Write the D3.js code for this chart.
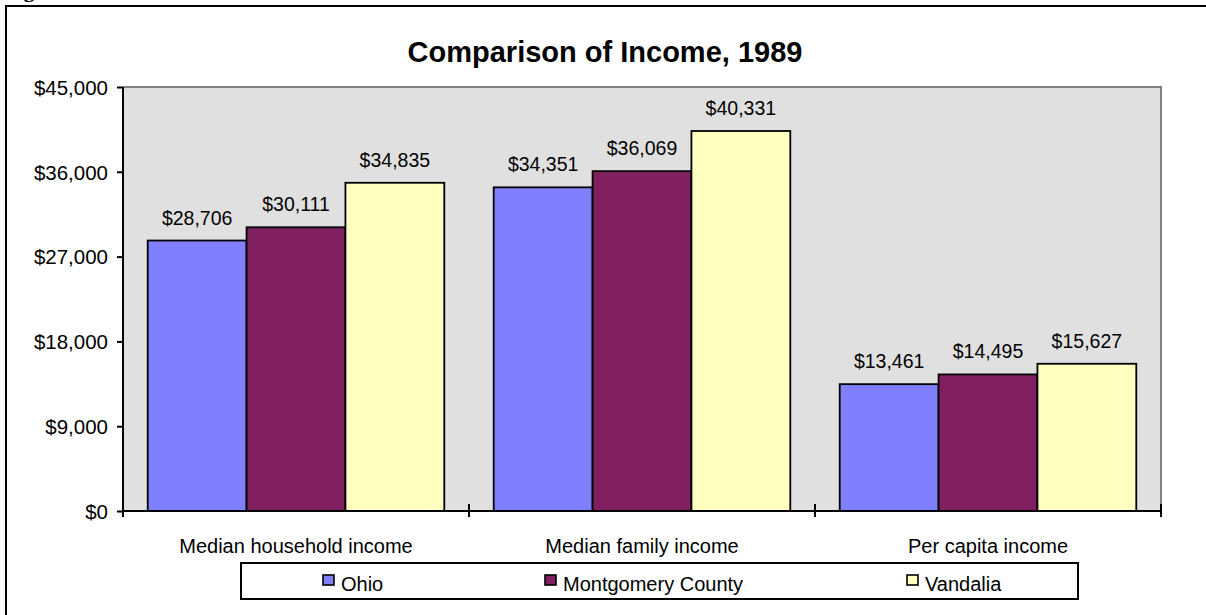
<!DOCTYPE html>
<html>
<head>
<meta charset="utf-8">
<script src="https://cdn.jsdelivr.net/npm/d3@7"></script>
<style>
  html, body { margin: 0; padding: 0; background: #fff; overflow: hidden; }
  svg { display: block; font-family: "Liberation Sans", Arial, sans-serif; }
</style>
</head>
<body>
<svg id="chart" width="1206" height="615"></svg>
<script>
// Income comparison data (1989)
const categories = ["Median household income", "Median family income", "Per capita income"];
const seriesNames = ["Ohio", "Montgomery County", "Vandalia"];
const ohioValues = [28706, 34351, 13461];
const montgomeryValues = [30111, 36069, 14495];
const vandaliaValues = [34835, 40331, 15627];
const seriesColors = ["#8080FF", "#802060", "#FFFFC0"];
const yTicks = [0, 9000, 18000, 27000, 36000, 45000];

const seriesValues = [ohioValues, montgomeryValues, vandaliaValues];

const svg = d3.select("#chart");

// outer frame (extends past the right/bottom edges)
svg.append("rect")
  .attr("x", 6).attr("y", 6)
  .attr("width", 1240).attr("height", 640)
  .attr("fill", "none").attr("stroke", "#000").attr("stroke-width", 2);

// figure caption above the frame, only its descenders fall inside the view
svg.append("text")
  .attr("x", 4).attr("y", -3)
  .attr("font-family", "Liberation Serif, Times New Roman, serif")
  .attr("font-weight", "bold").attr("font-size", 22)
  .text("Figure 3");

const plot = { left: 123, right: 1161, top: 87, bottom: 511 };

const x = d3.scaleBand().domain(categories).range([plot.left, plot.right]).paddingInner(0).paddingOuter(0);
const xs = d3.scaleBand().domain(seriesNames).range([0, x.bandwidth()]).paddingInner(0).paddingOuter(0.25);
const y = d3.scaleLinear().domain([0, 45000]).range([plot.bottom, plot.top]);

// plot area background
svg.append("rect")
  .attr("x", plot.left).attr("y", plot.top)
  .attr("width", plot.right - plot.left).attr("height", plot.bottom - plot.top)
  .attr("fill", "#E0E0E0");
// top and right border of plot area
svg.append("path")
  .attr("d", `M${plot.left},${plot.top}H${plot.right}V${plot.bottom}`)
  .attr("fill", "none").attr("stroke", "#808080").attr("stroke-width", 2);

// title
svg.append("text")
  .attr("x", 605).attr("y", 62)
  .attr("text-anchor", "middle")
  .attr("font-weight", "bold").attr("font-size", 29)
  .attr("fill", "#000")
  .text("Comparison of Income, 1989");

// bars
const rows = [];
categories.forEach((c, i) => {
  seriesNames.forEach((s, j) => rows.push({ cat: c, series: s, value: seriesValues[j][i], color: seriesColors[j] }));
});

const bars = svg.append("g");
bars.selectAll("rect").data(rows).join("rect")
  .attr("x", d => x(d.cat) + xs(d.series))
  .attr("y", d => y(d.value))
  .attr("width", xs.bandwidth())
  .attr("height", d => y(0) - y(d.value))
  .attr("fill", d => d.color)
  .attr("stroke", "#000").attr("stroke-width", 1.8);

// value labels
const fmt = d3.format("$,");
bars.selectAll("text").data(rows).join("text")
  .attr("x", d => x(d.cat) + xs(d.series) + xs.bandwidth() / 2)
  .attr("y", d => y(d.value) - 16)
  .attr("text-anchor", "middle")
  .attr("font-size", 19.5)
  .attr("fill", "#000")
  .text(d => fmt(d.value));

// y axis
const yAxis = svg.append("g")
  .attr("transform", `translate(${plot.left},0)`)
  .call(d3.axisLeft(y).tickValues(yTicks).tickSize(6).tickPadding(9).tickFormat(fmt));
yAxis.select(".domain").attr("stroke", "#000").attr("stroke-width", 2)
  .attr("d", `M0,${plot.top}V${plot.bottom}`);
yAxis.selectAll(".tick line").attr("stroke", "#000").attr("stroke-width", 2);
yAxis.selectAll(".tick text")
  .attr("font-size", 20.5).attr("font-family", "Liberation Sans, Arial, sans-serif")
  .attr("fill", "#000").attr("dy", "0.36em");

// x axis: category labels plus boundary ticks
const xAxis = svg.append("g")
  .attr("transform", `translate(0,${plot.bottom})`)
  .call(d3.axisBottom(x).tickSize(0).tickPadding(28));
xAxis.select(".domain").remove();
xAxis.selectAll(".tick text")
  .attr("font-size", 20).attr("font-family", "Liberation Sans, Arial, sans-serif")
  .attr("fill", "#000");
svg.append("line")
  .attr("x1", plot.left).attr("x2", plot.right)
  .attr("y1", plot.bottom).attr("y2", plot.bottom)
  .attr("stroke", "#000").attr("stroke-width", 2);
const boundaries = categories.map(c => x(c)).concat([x(categories[categories.length - 1]) + x.bandwidth()]);
svg.append("g").selectAll("line").data(boundaries).join("line")
  .attr("x1", d => d).attr("x2", d => d)
  .attr("y1", plot.bottom - 7).attr("y2", plot.bottom + 6)
  .attr("stroke", "#000").attr("stroke-width", 2);

// legend
const legend = svg.append("g");
legend.append("rect")
  .attr("x", 241).attr("y", 563).attr("width", 837).attr("height", 36)
  .attr("fill", "#fff").attr("stroke", "#000").attr("stroke-width", 2);
const legendX = [323, 545, 907];
const items = legend.selectAll("g.item").data(seriesNames).join("g")
  .attr("class", "item")
  .attr("transform", (d, i) => `translate(${legendX[i]},575)`);
items.append("rect")
  .attr("width", 11).attr("height", 10)
  .attr("fill", (d, i) => seriesColors[i])
  .attr("stroke", "#000").attr("stroke-width", 1.6);
items.append("text")
  .attr("x", 18).attr("y", 16)
  .attr("font-size", 20).attr("fill", "#000")
  .text(d => d);
</script>
</body>
</html>
